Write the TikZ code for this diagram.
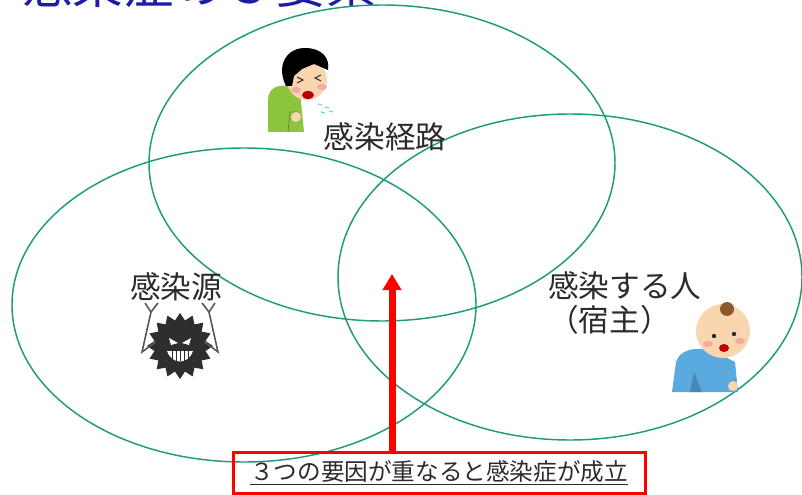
\documentclass[tikz,border=0pt]{standalone}
\usepackage{fontspec}
\setmainfont{Noto Sans CJK JP}
\usepackage{xcolor}
\usepackage{tikz}
\usetikzlibrary{arrows.meta}

\definecolor{ringgreen}{HTML}{1E9B78}
\definecolor{titleblue}{HTML}{1C1CA8}
\definecolor{ink}{HTML}{2B2B2B}
\definecolor{skin}{HTML}{F9D6B0}
\definecolor{cheek}{HTML}{F6A9A0}
\definecolor{shirtgreen}{HTML}{8CC63F}
\definecolor{babyblue}{HTML}{5AAADF}
\definecolor{hairbrown}{HTML}{8A5A2E}
\definecolor{germ}{HTML}{2E2E2E}

\begin{document}
\begin{tikzpicture}[x=0.75pt,y=-0.75pt,
    ring/.style={draw=ringgreen,line width=1.1pt},
    lbl/.style={text=ink,font=\fontsize{23}{25}\selectfont,inner sep=0pt}]
    \useasboundingbox (0,0) rectangle (802,495);
    % title, only its lower edge shows
    \begin{scope}
        \clip (0,0) rectangle (802,495);
        \node[anchor=base west,inner sep=0pt,text=titleblue,
              font=\fontsize{38}{40}\selectfont] (title) at (22,4) {感染症の３要素};
    \end{scope}

    % the three rings
    \draw[ring] (382,163) ellipse [x radius=233, y radius=158];
    \draw[ring] (244,305) ellipse [x radius=232, y radius=157];
    \draw[ring] (570,277) ellipse [x radius=232, y radius=163];

    \node[lbl] (route) at (385,137) {感染経路};
    \node[lbl] (source) at (176,287) {感染源};
    \node[lbl,anchor=west,align=left] (host) at (548,303) {感染する人\\（宿主）};

    % coughing boy
    \fill[shirtgreen] (268,132) -- (268,100) .. controls (268,88) and (278,84) .. (290,86)
        -- (300,92) -- (304,132) -- cycle;
    \draw[shirtgreen!70!black,line width=0.6pt] (288,132) -- (290,112) -- (298,112);
    \fill[skin] (296,117) circle [radius=5];
    \fill[skin] (307,80) circle [radius=20];
    \fill[black] (286,86) .. controls (276,66) and (286,48) .. (305,48)
        .. controls (322,48) and (330,58) .. (328,70) -- (314,64) -- (302,69)
        -- (294,76) -- (292,86) -- cycle;
    \fill[cheek] (296,90) ellipse [x radius=5, y radius=3];
    \fill[cheek] (322,87) ellipse [x radius=5, y radius=3];
    \draw[ink,line width=0.8pt] (297,77) -- (303,80) -- (297,83);
    \draw[ink,line width=0.8pt] (321,75) -- (315,78) -- (321,81);
    \fill[red!75!black] (308,95) ellipse [x radius=6, y radius=4];
    \foreach \sx/\sy in {318/104,325/107,321/112,329/111}
        \draw[cyan!60,line width=0.9pt] (\sx,\sy) -- ++(4,1);

    % germ
    \begin{scope}[shift={(180,346)}]
        \fill[germ] (0:33) \foreach \k in {1,...,31} {
            -- ({\k*11.25}:{29.5+3.5*cos(\k*180)})} -- cycle;
        \fill[white] (-11,-8) -- (-2,-3) -- (-9,-1) -- cycle;
        \fill[white] (11,-8) -- (2,-3) -- (9,-1) -- cycle;
        \fill[white] (-13,5) .. controls (-8,19) and (8,19) .. (13,5) -- cycle;
        \foreach \t in {-8,-4,0,4,8}
            \draw[germ,line width=0.6pt] (\t,5) -- (\t,15);
    \end{scope}
    \draw[germ!80,line width=1.2pt] (158,340) -- (142,352) -- (151,312);
    \draw[germ!80,line width=1.2pt] (151,312) -- (145,303) (151,312) -- (158,303);
    \draw[germ!80,line width=1.2pt] (202,340) -- (218,352) -- (209,312);
    \draw[germ!80,line width=1.2pt] (209,312) -- (202,303) (209,312) -- (215,303);
    \fill[germ] (158,340) circle [radius=3] (202,340) circle [radius=3];

    % crawling baby
    \fill[babyblue] (672,392) -- (676,362) .. controls (680,348) and (700,346) .. (715,352)
        -- (735,362) -- (738,392) -- cycle;
    \fill[babyblue!80!black] (690,392) -- (694,372) -- (702,392) -- cycle;
    \fill[skin] (733,386) circle [radius=5];
    \fill[skin] (723,331) circle [radius=27];
    \fill[hairbrown] (727,309) circle [radius=7];
    \fill[cheek] (708,344) ellipse [x radius=5, y radius=3];
    \fill[cheek] (740,341) ellipse [x radius=5, y radius=3];
    \fill[ink] (714,336) circle [radius=2.2] (734,334) circle [radius=2.2];
    \fill[red!75!black] (724,348) ellipse [x radius=5, y radius=4];

    % where the three overlap
    \node[draw=red,line width=2.25pt,minimum width=309pt,minimum height=30.75pt,
          inner sep=0pt,text=ink,font=\fontsize{17.7}{20}\selectfont] (cause) at (439,472.5)
        {\underline{３つの要因が重なると感染症が成立}};
    \coordinate (meet) at (392,274);
    \draw[red,line width=5.25pt,-{Triangle[width=13.5pt,length=12pt]}]
        (cause.north -| meet) -- (meet);
\end{tikzpicture}
\end{document}
